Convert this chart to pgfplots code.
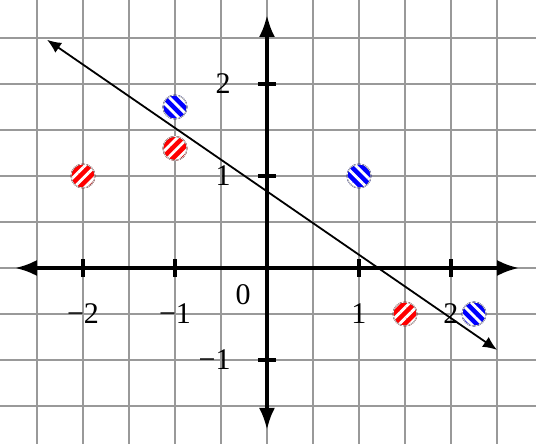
\documentclass[border=0pt]{standalone}
\usepackage{pgfplots}
\pgfplotsset{compat=1.18}
\usepackage{fontspec}
\setmainfont{Liberation Serif}
\usetikzlibrary{arrows.meta,patterns.meta}

% striped disc marks
\pgfdeclareplotmark{redstripe}{%
  \fill[red] (0pt,0pt) circle[radius=6pt];
  \fill[pattern={Lines[angle=45,distance=3.8pt,line width=1.4pt]},pattern color=white] (0pt,0pt) circle[radius=6pt];
  \draw[white,line width=0.3pt] (0pt,0pt) circle[radius=6pt];
}
\pgfdeclareplotmark{bluestripe}{%
  \fill[blue] (0pt,0pt) circle[radius=6pt];
  \fill[pattern={Lines[angle=-45,distance=3.8pt,line width=1.4pt]},pattern color=white] (0pt,0pt) circle[radius=6pt];
  \draw[white,line width=0.3pt] (0pt,0pt) circle[radius=6pt];
}

\begin{document}
\begin{tikzpicture}[font=\fontsize{15}{18}\selectfont]
\begin{axis}[
  scale only axis,
  width=268pt, height=222pt,
  xmin=-2.902, xmax=2.924,
  ymin=-1.913, ymax=2.913,
  axis lines=middle,
  axis line style={draw=none,-},
  xtick={-2,-1,1,2},
  xticklabels={−2,−1,1,2},
  ytick={-1,1,2},
  yticklabels={−1,1,2},
  minor xtick={-2.5,-1.5,-0.5,0,0.5,1.5,2.5},
  minor ytick={-1.5,-0.5,0,0.5,1.5,2.5},
  grid=both,
  grid style={black!40,line width=0.6pt},
  minor grid style={black!40,line width=0.6pt},
  tick align=center,
  major tick length=9pt,
  minor tick length=0pt,
  major tick style={black,line width=1.8pt},
  xticklabel style={anchor=center,inner sep=0pt,yshift=-18.5pt},
  yticklabel style={anchor=east,inner sep=0pt,xshift=-13.5pt},
]
% axes with arrows
\addplot[line width=1.8pt,arrows={Latex[length=11pt,width=8pt]-Latex[length=11pt,width=8pt]}]
  coordinates {(-2.74,0) (2.74,0)};
\addplot[line width=1.8pt,arrows={Latex[length=11pt,width=8pt]-Latex[length=11pt,width=8pt]}]
  coordinates {(0,-1.76) (0,2.75)};

% separating line
\addplot[line width=0.9pt,arrows={Latex[length=7pt,width=6pt]-Latex[length=7pt,width=6pt]}]
  coordinates {(-2.39,2.48) (2.5,-0.89)};

% red points
\addplot[only marks,mark=redstripe] coordinates {
  (-2,1) (-1,1.3) (1.5,-0.5)
};
% blue points
\addplot[only marks,mark=bluestripe] coordinates {
  (-1,1.75) (1,1) (2.25,-0.5)
};

\node at (axis cs:-0.26,-0.29) {0};
\end{axis}
\pgfresetboundingbox
\useasboundingbox (current axis.south west) rectangle (current axis.north east);
\end{tikzpicture}
\end{document}
